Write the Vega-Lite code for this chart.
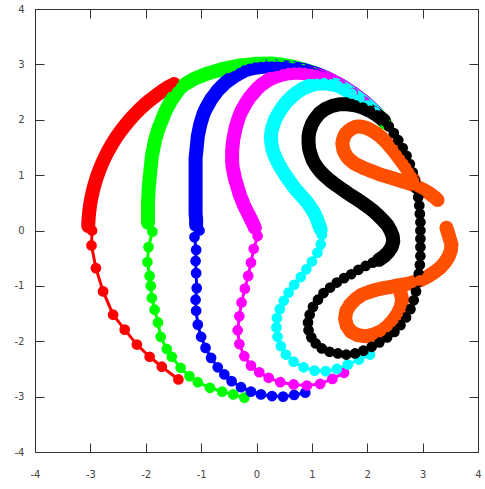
{
"$schema":"https://vega.github.io/schema/vega-lite/v6.json",
"width":443,"height":443,
"autosize":{"type":"none"},
"padding":{"left":35,"top":9,"right":7,"bottom":37},
"background":"white",
"config":{"view":{"stroke":"#333","strokeWidth":1},
 "axis":{"grid":false,"domain":false,"title":null,"tickColor":"#333","tickWidth":1,"tickSize":-9,"labelFont":"DejaVu Sans","labelFontSize":10,"labelColor":"#444","labelFlush":false,"labelOverlap":false}},
"data":{"values":[
{"c":"a1","x":-1.490,"y":2.645},{"c":"a1","x":-1.588,"y":2.592},{"c":"a1","x":-1.700,"y":2.520},{"c":"a1","x":-1.808,"y":2.444},{"c":"a1","x":-1.913,"y":2.362},{"c":"a1","x":-2.014,"y":2.277},{"c":"a1","x":-2.112,"y":2.187},{"c":"a1","x":-2.205,"y":2.093},{"c":"a1","x":-2.294,"y":1.995},{"c":"a1","x":-2.379,"y":1.892},{"c":"a1","x":-2.459,"y":1.787},{"c":"a1","x":-2.535,"y":1.678},{"c":"a1","x":-2.606,"y":1.566},{"c":"a1","x":-2.672,"y":1.451},{"c":"a1","x":-2.732,"y":1.333},{"c":"a1","x":-2.788,"y":1.212},{"c":"a1","x":-2.838,"y":1.090},{"c":"a1","x":-2.883,"y":0.965},{"c":"a1","x":-2.922,"y":0.838},{"c":"a1","x":-2.956,"y":0.710},{"c":"a1","x":-2.984,"y":0.580},{"c":"a1","x":-3.007,"y":0.449},{"c":"a1","x":-3.023,"y":0.318},{"c":"a1","x":-3.034,"y":0.186},{"c":"a1","x":-3.039,"y":0.080},
{"c":"a2","x":-3.039,"y":0.080},{"c":"a2","x":-2.97,"y":0.00},{"c":"a2","x":-2.98,"y":-0.27},{"c":"a2","x":-2.90,"y":-0.68},{"c":"a2","x":-2.77,"y":-1.10},{"c":"a2","x":-2.59,"y":-1.52},{"c":"a2","x":-2.38,"y":-1.79},{"c":"a2","x":-2.16,"y":-2.06},{"c":"a2","x":-1.93,"y":-2.28},{"c":"a2","x":-1.71,"y":-2.46},{"c":"a2","x":-1.41,"y":-2.69},
{"c":"b1","x":2.321,"y":1.948},{"c":"b1","x":2.143,"y":2.143},{"c":"b1","x":1.948,"y":2.321},{"c":"b1","x":1.738,"y":2.482},{"c":"b1","x":1.515,"y":2.624},{"c":"b1","x":1.281,"y":2.746},{"c":"b1","x":1.036,"y":2.847},{"c":"b1","x":0.835,"y":2.913},{"c":"b1","x":0.630,"y":2.964},{"c":"b1","x":0.422,"y":3.000},{"c":"b1","x":0.264,"y":3.018},
{"c":"b1","x":0.10,"y":3.01},{"c":"b1","x":0.00,"y":3.01},{"c":"b1","x":-0.10,"y":3.00},{"c":"b1","x":-0.20,"y":2.99},{"c":"b1","x":-0.30,"y":2.98},{"c":"b1","x":-0.40,"y":2.96},{"c":"b1","x":-0.50,"y":2.94},{"c":"b1","x":-0.60,"y":2.92},{"c":"b1","x":-0.70,"y":2.89},{"c":"b1","x":-0.80,"y":2.86},{"c":"b1","x":-0.90,"y":2.83},{"c":"b1","x":-1.00,"y":2.79},{"c":"b1","x":-1.10,"y":2.75},{"c":"b1","x":-1.19,"y":2.70},{"c":"b1","x":-1.28,"y":2.65},{"c":"b1","x":-1.36,"y":2.59},{"c":"b1","x":-1.43,"y":2.51},{"c":"b1","x":-1.49,"y":2.42},{"c":"b1","x":-1.55,"y":2.33},{"c":"b1","x":-1.60,"y":2.24},{"c":"b1","x":-1.65,"y":2.14},{"c":"b1","x":-1.69,"y":2.04},{"c":"b1","x":-1.73,"y":1.94},{"c":"b1","x":-1.77,"y":1.84},{"c":"b1","x":-1.80,"y":1.74},{"c":"b1","x":-1.83,"y":1.64},{"c":"b1","x":-1.85,"y":1.54},{"c":"b1","x":-1.87,"y":1.44},{"c":"b1","x":-1.89,"y":1.34},{"c":"b1","x":-1.90,"y":1.24},{"c":"b1","x":-1.91,"y":1.14},{"c":"b1","x":-1.92,"y":1.04},{"c":"b1","x":-1.93,"y":0.94},{"c":"b1","x":-1.94,"y":0.84},{"c":"b1","x":-1.95,"y":0.74},{"c":"b1","x":-1.95,"y":0.64},{"c":"b1","x":-1.96,"y":0.54},{"c":"b1","x":-1.96,"y":0.44},{"c":"b1","x":-1.96,"y":0.34},{"c":"b1","x":-1.96,"y":0.24},{"c":"b1","x":-1.96,"y":0.14},
{"c":"b2","x":-1.96,"y":0.14},{"c":"b2","x":-1.88,"y":-0.02},{"c":"b2","x":-1.95,"y":-0.30},{"c":"b2","x":-1.97,"y":-0.57},{"c":"b2","x":-1.93,"y":-0.82},{"c":"b2","x":-1.91,"y":-1.00},{"c":"b2","x":-1.89,"y":-1.22},{"c":"b2","x":-1.84,"y":-1.43},{"c":"b2","x":-1.78,"y":-1.66},{"c":"b2","x":-1.73,"y":-1.92},{"c":"b2","x":-1.62,"y":-2.14},{"c":"b2","x":-1.53,"y":-2.28},{"c":"b2","x":-1.37,"y":-2.48},{"c":"b2","x":-1.21,"y":-2.63},{"c":"b2","x":-1.06,"y":-2.74},{"c":"b2","x":-0.84,"y":-2.84},{"c":"b2","x":-0.62,"y":-2.91},{"c":"b2","x":-0.42,"y":-2.96},{"c":"b2","x":-0.22,"y":-3.02},
{"c":"c1","x":2.143,"y":2.143},{"c":"c1","x":1.948,"y":2.321},{"c":"c1","x":1.738,"y":2.482},{"c":"c1","x":1.515,"y":2.624},{"c":"c1","x":1.281,"y":2.746},
{"c":"c1","x":1.18,"y":2.79},{"c":"c1","x":1.08,"y":2.83},{"c":"c1","x":0.98,"y":2.86},{"c":"c1","x":0.88,"y":2.89},{"c":"c1","x":0.78,"y":2.91},{"c":"c1","x":0.68,"y":2.93},{"c":"c1","x":0.58,"y":2.94},{"c":"c1","x":0.48,"y":2.95},{"c":"c1","x":0.38,"y":2.96},{"c":"c1","x":0.28,"y":2.96},{"c":"c1","x":0.18,"y":2.96},{"c":"c1","x":0.08,"y":2.95},{"c":"c1","x":-0.02,"y":2.94},{"c":"c1","x":-0.12,"y":2.92},{"c":"c1","x":-0.21,"y":2.89},{"c":"c1","x":-0.30,"y":2.84},{"c":"c1","x":-0.39,"y":2.79},{"c":"c1","x":-0.48,"y":2.73},{"c":"c1","x":-0.56,"y":2.67},{"c":"c1","x":-0.63,"y":2.60},{"c":"c1","x":-0.70,"y":2.53},{"c":"c1","x":-0.76,"y":2.45},{"c":"c1","x":-0.82,"y":2.37},{"c":"c1","x":-0.87,"y":2.28},{"c":"c1","x":-0.92,"y":2.19},{"c":"c1","x":-0.96,"y":2.10},{"c":"c1","x":-0.99,"y":2.00},{"c":"c1","x":-1.02,"y":1.90},{"c":"c1","x":-1.04,"y":1.80},{"c":"c1","x":-1.06,"y":1.70},{"c":"c1","x":-1.07,"y":1.60},{"c":"c1","x":-1.08,"y":1.50},{"c":"c1","x":-1.09,"y":1.40},{"c":"c1","x":-1.10,"y":1.30},{"c":"c1","x":-1.10,"y":1.20},{"c":"c1","x":-1.10,"y":1.10},{"c":"c1","x":-1.10,"y":1.00},{"c":"c1","x":-1.10,"y":0.90},{"c":"c1","x":-1.10,"y":0.80},{"c":"c1","x":-1.10,"y":0.70},{"c":"c1","x":-1.10,"y":0.60},{"c":"c1","x":-1.10,"y":0.50},{"c":"c1","x":-1.10,"y":0.40},{"c":"c1","x":-1.10,"y":0.30},{"c":"c1","x":-1.09,"y":0.20},{"c":"c1","x":-1.09,"y":0.10},
{"c":"c2","x":-1.09,"y":0.10},{"c":"c2","x":-1.03,"y":0.00},{"c":"c2","x":-1.12,"y":-0.12},{"c":"c2","x":-1.09,"y":-0.35},{"c":"c2","x":-1.10,"y":-0.55},{"c":"c2","x":-1.09,"y":-0.77},{"c":"c2","x":-1.08,"y":-1.04},{"c":"c2","x":-1.10,"y":-1.25},{"c":"c2","x":-1.09,"y":-1.45},{"c":"c2","x":-1.06,"y":-1.70},{"c":"c2","x":-1.00,"y":-1.92},{"c":"c2","x":-0.92,"y":-2.12},{"c":"c2","x":-0.82,"y":-2.30},{"c":"c2","x":-0.70,"y":-2.47},{"c":"c2","x":-0.58,"y":-2.60},{"c":"c2","x":-0.45,"y":-2.72},{"c":"c2","x":-0.28,"y":-2.83},{"c":"c2","x":-0.10,"y":-2.91},{"c":"c2","x":0.08,"y":-2.96},{"c":"c2","x":0.28,"y":-2.99},{"c":"c2","x":0.48,"y":-3.00},{"c":"c2","x":0.68,"y":-2.97},{"c":"c2","x":0.88,"y":-2.93},
{"c":"d1","x":2.143,"y":2.143},{"c":"d1","x":1.948,"y":2.321},{"c":"d1","x":1.738,"y":2.482},{"c":"d1","x":1.515,"y":2.624},{"c":"d1","x":1.281,"y":2.746},
{"c":"d1","x":1.18,"y":2.78},{"c":"d1","x":1.08,"y":2.81},{"c":"d1","x":0.98,"y":2.83},{"c":"d1","x":0.88,"y":2.84},{"c":"d1","x":0.78,"y":2.85},{"c":"d1","x":0.68,"y":2.85},{"c":"d1","x":0.58,"y":2.84},{"c":"d1","x":0.48,"y":2.82},{"c":"d1","x":0.38,"y":2.79},{"c":"d1","x":0.28,"y":2.75},{"c":"d1","x":0.19,"y":2.70},{"c":"d1","x":0.10,"y":2.64},{"c":"d1","x":0.02,"y":2.57},{"c":"d1","x":-0.05,"y":2.49},{"c":"d1","x":-0.12,"y":2.41},{"c":"d1","x":-0.18,"y":2.32},{"c":"d1","x":-0.23,"y":2.23},{"c":"d1","x":-0.28,"y":2.14},{"c":"d1","x":-0.32,"y":2.04},{"c":"d1","x":-0.35,"y":1.94},{"c":"d1","x":-0.38,"y":1.84},{"c":"d1","x":-0.40,"y":1.74},{"c":"d1","x":-0.42,"y":1.64},{"c":"d1","x":-0.43,"y":1.54},{"c":"d1","x":-0.44,"y":1.44},{"c":"d1","x":-0.44,"y":1.34},{"c":"d1","x":-0.44,"y":1.24},{"c":"d1","x":-0.43,"y":1.14},{"c":"d1","x":-0.41,"y":1.04},{"c":"d1","x":-0.39,"y":0.94},{"c":"d1","x":-0.36,"y":0.84},{"c":"d1","x":-0.33,"y":0.74},{"c":"d1","x":-0.30,"y":0.64},{"c":"d1","x":-0.26,"y":0.54},{"c":"d1","x":-0.22,"y":0.44},{"c":"d1","x":-0.17,"y":0.34},{"c":"d1","x":-0.12,"y":0.24},{"c":"d1","x":-0.07,"y":0.14},{"c":"d1","x":-0.03,"y":0.05},
{"c":"d2","x":-0.03,"y":0.05},{"c":"d2","x":0.02,"y":-0.10},{"c":"d2","x":-0.05,"y":-0.33},{"c":"d2","x":-0.10,"y":-0.58},{"c":"d2","x":-0.15,"y":-0.82},{"c":"d2","x":-0.21,"y":-1.05},{"c":"d2","x":-0.27,"y":-1.30},{"c":"d2","x":-0.31,"y":-1.55},{"c":"d2","x":-0.34,"y":-1.80},{"c":"d2","x":-0.31,"y":-2.05},{"c":"d2","x":-0.22,"y":-2.27},{"c":"d2","x":-0.10,"y":-2.44},{"c":"d2","x":0.05,"y":-2.56},{"c":"d2","x":0.22,"y":-2.66},{"c":"d2","x":0.43,"y":-2.74},{"c":"d2","x":0.67,"y":-2.78},{"c":"d2","x":0.91,"y":-2.80},{"c":"d2","x":1.15,"y":-2.77},{"c":"d2","x":1.37,"y":-2.68},{"c":"d2","x":1.58,"y":-2.57},
{"c":"e1","x":2.14,"y":2.14},{"c":"e1","x":2.00,"y":2.26},{"c":"e1","x":1.86,"y":2.37},{"c":"e1","x":1.72,"y":2.47},{"c":"e1","x":1.58,"y":2.56},{"c":"e1","x":1.46,"y":2.62},
{"c":"e1","x":1.35,"y":2.64},{"c":"e1","x":1.22,"y":2.66},{"c":"e1","x":1.09,"y":2.65},{"c":"e1","x":0.97,"y":2.62},{"c":"e1","x":0.85,"y":2.57},{"c":"e1","x":0.74,"y":2.50},{"c":"e1","x":0.64,"y":2.42},{"c":"e1","x":0.55,"y":2.33},{"c":"e1","x":0.47,"y":2.23},{"c":"e1","x":0.40,"y":2.12},{"c":"e1","x":0.34,"y":2.01},{"c":"e1","x":0.30,"y":1.90},{"c":"e1","x":0.27,"y":1.79},{"c":"e1","x":0.26,"y":1.68},{"c":"e1","x":0.27,"y":1.57},{"c":"e1","x":0.29,"y":1.46},{"c":"e1","x":0.33,"y":1.35},{"c":"e1","x":0.38,"y":1.24},{"c":"e1","x":0.44,"y":1.13},{"c":"e1","x":0.50,"y":1.03},{"c":"e1","x":0.57,"y":0.93},{"c":"e1","x":0.64,"y":0.83},{"c":"e1","x":0.72,"y":0.73},{"c":"e1","x":0.80,"y":0.64},{"c":"e1","x":0.88,"y":0.55},{"c":"e1","x":0.95,"y":0.46},{"c":"e1","x":1.01,"y":0.37},{"c":"e1","x":1.06,"y":0.28},{"c":"e1","x":1.10,"y":0.19},{"c":"e1","x":1.13,"y":0.10},{"c":"e1","x":1.16,"y":0.02},
{"c":"e2","x":1.16,"y":0.02},{"c":"e2","x":1.18,"y":-0.08},{"c":"e2","x":1.16,"y":-0.25},{"c":"e2","x":1.10,"y":-0.40},{"c":"e2","x":1.00,"y":-0.56},{"c":"e2","x":0.90,"y":-0.70},{"c":"e2","x":0.80,"y":-0.84},{"c":"e2","x":0.68,"y":-0.98},{"c":"e2","x":0.58,"y":-1.12},{"c":"e2","x":0.49,"y":-1.27},{"c":"e2","x":0.42,"y":-1.42},{"c":"e2","x":0.37,"y":-1.58},{"c":"e2","x":0.36,"y":-1.75},{"c":"e2","x":0.38,"y":-1.92},{"c":"e2","x":0.44,"y":-2.09},{"c":"e2","x":0.53,"y":-2.24},{"c":"e2","x":0.67,"y":-2.37},{"c":"e2","x":0.85,"y":-2.47},{"c":"e2","x":1.05,"y":-2.53},{"c":"e2","x":1.25,"y":-2.54},{"c":"e2","x":1.45,"y":-2.50},{"c":"e2","x":1.65,"y":-2.42},{"c":"e2","x":1.85,"y":-2.33},{"c":"e2","x":2.05,"y":-2.24},
{"c":"f1","x":2.30,"y":1.99},{"c":"f1","x":2.18,"y":2.08},{"c":"f1","x":2.05,"y":2.16},{"c":"f1","x":1.92,"y":2.22},{"c":"f1","x":1.78,"y":2.26},{"c":"f1","x":1.64,"y":2.28},{"c":"f1","x":1.50,"y":2.28},{"c":"f1","x":1.37,"y":2.25},{"c":"f1","x":1.25,"y":2.20},{"c":"f1","x":1.14,"y":2.12},{"c":"f1","x":1.06,"y":2.02},{"c":"f1","x":1.00,"y":1.92},{"c":"f1","x":0.96,"y":1.81},{"c":"f1","x":0.94,"y":1.70},{"c":"f1","x":0.94,"y":1.59},{"c":"f1","x":0.95,"y":1.48},{"c":"f1","x":0.98,"y":1.37},{"c":"f1","x":1.02,"y":1.26},{"c":"f1","x":1.08,"y":1.16},{"c":"f1","x":1.15,"y":1.07},{"c":"f1","x":1.23,"y":0.99},{"c":"f1","x":1.32,"y":0.91},{"c":"f1","x":1.41,"y":0.84},{"c":"f1","x":1.51,"y":0.77},{"c":"f1","x":1.61,"y":0.70},{"c":"f1","x":1.71,"y":0.63},{"c":"f1","x":1.81,"y":0.57},{"c":"f1","x":1.91,"y":0.50},{"c":"f1","x":2.01,"y":0.43},{"c":"f1","x":2.10,"y":0.36},{"c":"f1","x":2.19,"y":0.28},{"c":"f1","x":2.28,"y":0.19},{"c":"f1","x":2.36,"y":0.10},{"c":"f1","x":2.42,"y":0.00},{"c":"f1","x":2.46,"y":-0.10},{"c":"f1","x":2.47,"y":-0.20},{"c":"f1","x":2.44,"y":-0.30},{"c":"f1","x":2.38,"y":-0.39},{"c":"f1","x":2.30,"y":-0.47},{"c":"f1","x":2.21,"y":-0.53},
{"c":"f2","x":2.21,"y":-0.53},{"c":"f2","x":2.10,"y":-0.58},{"c":"f2","x":1.97,"y":-0.64},{"c":"f2","x":1.84,"y":-0.71},{"c":"f2","x":1.71,"y":-0.79},{"c":"f2","x":1.58,"y":-0.86},{"c":"f2","x":1.45,"y":-0.94},{"c":"f2","x":1.33,"y":-1.03},{"c":"f2","x":1.21,"y":-1.13},{"c":"f2","x":1.11,"y":-1.25},{"c":"f2","x":1.02,"y":-1.38},{"c":"f2","x":0.96,"y":-1.52},{"c":"f2","x":0.93,"y":-1.66},{"c":"f2","x":0.94,"y":-1.80},{"c":"f2","x":0.99,"y":-1.93},{"c":"f2","x":1.07,"y":-2.04},{"c":"f2","x":1.18,"y":-2.13},{"c":"f2","x":1.32,"y":-2.19},{"c":"f2","x":1.47,"y":-2.22},{"c":"f2","x":1.62,"y":-2.24},{"c":"f2","x":1.78,"y":-2.22},{"c":"f2","x":1.93,"y":-2.17},{"c":"f2","x":2.08,"y":-2.10},{"c":"f2","x":2.22,"y":-2.02},{"c":"f2","x":2.36,"y":-1.93},{"c":"f2","x":2.49,"y":-1.83},{"c":"f2","x":2.60,"y":-1.71},{"c":"f2","x":2.70,"y":-1.57},{"c":"f2","x":2.78,"y":-1.42},{"c":"f2","x":2.84,"y":-1.26},{"c":"f2","x":2.88,"y":-1.10},{"c":"f2","x":2.91,"y":-0.94},{"c":"f2","x":2.93,"y":-0.78},{"c":"f2","x":2.95,"y":-0.62},{"c":"f2","x":2.96,"y":-0.46},{"c":"f2","x":2.96,"y":-0.30},{"c":"f2","x":2.96,"y":-0.15},{"c":"f2","x":2.96,"y":0.00},{"c":"f2","x":2.96,"y":0.15},{"c":"f2","x":2.95,"y":0.30},{"c":"f2","x":2.94,"y":0.45},{"c":"f2","x":2.92,"y":0.60},{"c":"f2","x":2.89,"y":0.75},{"c":"f2","x":2.86,"y":0.90},{"c":"f2","x":2.82,"y":1.05},{"c":"f2","x":2.77,"y":1.20},{"c":"f2","x":2.71,"y":1.35},{"c":"f2","x":2.64,"y":1.49},{"c":"f2","x":2.56,"y":1.63},{"c":"f2","x":2.48,"y":1.76},{"c":"f2","x":2.39,"y":1.88},{"c":"f2","x":2.30,"y":1.99},
{"c":"g1","x":2.84,"y":0.90},{"c":"g1","x":2.80,"y":0.98},{"c":"g1","x":2.75,"y":1.06},{"c":"g1","x":2.70,"y":1.14},{"c":"g1","x":2.65,"y":1.21},{"c":"g1","x":2.59,"y":1.29},{"c":"g1","x":2.53,"y":1.37},{"c":"g1","x":2.47,"y":1.45},{"c":"g1","x":2.41,"y":1.52},{"c":"g1","x":2.35,"y":1.59},{"c":"g1","x":2.28,"y":1.66},{"c":"g1","x":2.21,"y":1.72},{"c":"g1","x":2.14,"y":1.77},{"c":"g1","x":2.07,"y":1.81},{"c":"g1","x":1.99,"y":1.85},{"c":"g1","x":1.92,"y":1.87},{"c":"g1","x":1.85,"y":1.88},{"c":"g1","x":1.78,"y":1.87},{"c":"g1","x":1.72,"y":1.84},{"c":"g1","x":1.66,"y":1.80},{"c":"g1","x":1.61,"y":1.75},{"c":"g1","x":1.58,"y":1.69},{"c":"g1","x":1.56,"y":1.63},{"c":"g1","x":1.55,"y":1.57},{"c":"g1","x":1.56,"y":1.51},{"c":"g1","x":1.57,"y":1.45},{"c":"g1","x":1.60,"y":1.39},{"c":"g1","x":1.63,"y":1.34},{"c":"g1","x":1.67,"y":1.29},{"c":"g1","x":1.72,"y":1.25},{"c":"g1","x":1.77,"y":1.21},{"c":"g1","x":1.83,"y":1.18},{"c":"g1","x":1.89,"y":1.15},{"c":"g1","x":1.95,"y":1.12},{"c":"g1","x":2.01,"y":1.10},{"c":"g1","x":2.08,"y":1.07},{"c":"g1","x":2.14,"y":1.05},{"c":"g1","x":2.21,"y":1.02},{"c":"g1","x":2.27,"y":1.00},{"c":"g1","x":2.34,"y":0.98},{"c":"g1","x":2.40,"y":0.96},{"c":"g1","x":2.47,"y":0.94},{"c":"g1","x":2.53,"y":0.92},{"c":"g1","x":2.60,"y":0.90},{"c":"g1","x":2.66,"y":0.88},{"c":"g1","x":2.73,"y":0.86},{"c":"g1","x":2.79,"y":0.84},{"c":"g1","x":2.86,"y":0.81},{"c":"g1","x":2.92,"y":0.78},{"c":"g1","x":2.98,"y":0.75},{"c":"g1","x":3.04,"y":0.72},{"c":"g1","x":3.09,"y":0.69},{"c":"g1","x":3.14,"y":0.66},{"c":"g1","x":3.19,"y":0.62},{"c":"g1","x":3.23,"y":0.59},{"c":"g1","x":3.27,"y":0.55},
{"c":"g2","x":3.43,"y":0.05},{"c":"g2","x":3.46,"y":-0.05},{"c":"g2","x":3.49,"y":-0.15},{"c":"g2","x":3.52,"y":-0.25},{"c":"g2","x":3.51,"y":-0.36},{"c":"g2","x":3.47,"y":-0.47},{"c":"g2","x":3.40,"y":-0.58},{"c":"g2","x":3.31,"y":-0.68},{"c":"g2","x":3.20,"y":-0.76},{"c":"g2","x":3.08,"y":-0.84},{"c":"g2","x":2.95,"y":-0.90},{"c":"g2","x":2.82,"y":-0.94},{"c":"g2","x":2.69,"y":-0.97},{"c":"g2","x":2.55,"y":-0.99},{"c":"g2","x":2.42,"y":-1.02},{"c":"g2","x":2.29,"y":-1.04},{"c":"g2","x":2.16,"y":-1.07},{"c":"g2","x":2.03,"y":-1.11},{"c":"g2","x":1.90,"y":-1.16},{"c":"g2","x":1.79,"y":-1.24},{"c":"g2","x":1.69,"y":-1.34},{"c":"g2","x":1.62,"y":-1.46},{"c":"g2","x":1.60,"y":-1.59},{"c":"g2","x":1.63,"y":-1.72},{"c":"g2","x":1.71,"y":-1.83},{"c":"g2","x":1.83,"y":-1.89},{"c":"g2","x":1.97,"y":-1.91},{"c":"g2","x":2.11,"y":-1.88},{"c":"g2","x":2.25,"y":-1.82},{"c":"g2","x":2.37,"y":-1.73},{"c":"g2","x":2.47,"y":-1.62},{"c":"g2","x":2.55,"y":-1.50},{"c":"g2","x":2.61,"y":-1.37},{"c":"g2","x":2.63,"y":-1.24},{"c":"g2","x":2.60,"y":-1.12}
]},
"layer":[
 {"transform":[{"filter":{"field":"c","oneOf":["a1","b1","c1","d1","e1","f1","g1","g2"]}}],
  "mark":{"type":"line","strokeWidth":14,"strokeCap":"round","strokeJoin":"round"},
  "encoding":{
   "x":{"field":"x","type":"quantitative","scale":{"domain":[-4,4],"nice":false,"zero":false},"axis":{"orient":"bottom","labelPadding":26,"values":[-4,-3,-2,-1,0,1,2,3,4],"labelExpr":"''+datum.value"}},
   "y":{"field":"y","type":"quantitative","scale":{"domain":[-4,4],"nice":false,"zero":false},"axis":{"orient":"left","labelPadding":20,"values":[-4,-3,-2,-1,0,1,2,3,4],"labelExpr":"''+datum.value"}},
   "color":{"field":"c","type":"nominal","scale":{"domain":["a1","a2","b1","b2","c1","c2","d1","d2","e1","e2","f1","f2","g1","g2"],"range":["#ff0000","#ff0000","#00ff00","#00ff00","#0000ff","#0000ff","#ff00ff","#ff00ff","#00ffff","#00ffff","#000000","#000000","#ff5000","#ff5000"]},"legend":null},
   "order":{"value":null}}},
 {"mark":{"type":"line","strokeWidth":3},
  "encoding":{
   "x":{"field":"x","type":"quantitative","scale":{"domain":[-4,4],"nice":false,"zero":false},"axis":null},
   "y":{"field":"y","type":"quantitative","scale":{"domain":[-4,4],"nice":false,"zero":false},"axis":null},
   "color":{"field":"c","type":"nominal","scale":{"domain":["a1","a2","b1","b2","c1","c2","d1","d2","e1","e2","f1","f2","g1","g2"],"range":["#ff0000","#ff0000","#00ff00","#00ff00","#0000ff","#0000ff","#ff00ff","#ff00ff","#00ffff","#00ffff","#000000","#000000","#ff5000","#ff5000"]},"legend":null},
   "order":{"value":null}}},
 {"mark":{"type":"circle","size":115,"opacity":1},
  "encoding":{
   "x":{"field":"x","type":"quantitative","scale":{"domain":[-4,4],"nice":false,"zero":false},"axis":{"orient":"top","labels":false,"values":[-4,-3,-2,-1,0,1,2,3,4]}},
   "y":{"field":"y","type":"quantitative","scale":{"domain":[-4,4],"nice":false,"zero":false},"axis":{"orient":"right","labels":false,"values":[-4,-3,-2,-1,0,1,2,3,4]}},
   "color":{"field":"c","type":"nominal","scale":{"domain":["a1","a2","b1","b2","c1","c2","d1","d2","e1","e2","f1","f2","g1","g2"],"range":["#ff0000","#ff0000","#00ff00","#00ff00","#0000ff","#0000ff","#ff00ff","#ff00ff","#00ffff","#00ffff","#000000","#000000","#ff5000","#ff5000"]},"legend":null}}}
],
"resolve":{"axis":{"x":"independent","y":"independent"}}
}
